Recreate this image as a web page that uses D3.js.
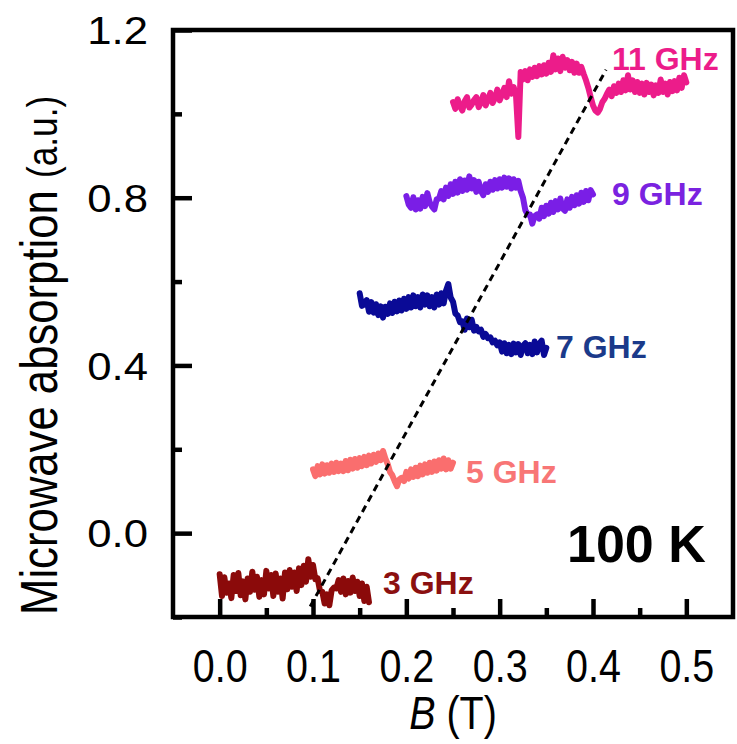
<!DOCTYPE html>
<html>
<head>
<meta charset="utf-8">
<script src="https://cdn.jsdelivr.net/npm/d3@7"></script>
<style>
  body { margin: 0; background: #fff; }
  svg { display: block; font-family: "Liberation Sans", Arial, sans-serif; }
</style>
</head>
<body>
<div id="chart"></div>
<script>
// field sweeps (T) for each frequency
var sweep3 = [0.00, 0.16];
var sweep5 = [0.10, 0.25];
var sweep7 = [0.15, 0.35];
var sweep9 = [0.20, 0.40];
var sweep11 = [0.25, 0.50];

// absorption (a.u.), evenly spaced along each sweep
var abs3 = [-0.098, -0.150, -0.105, -0.142, -0.120, -0.155, -0.100, -0.138, -0.095, -0.148,
  -0.115, -0.158, -0.108, -0.140, -0.092, -0.135, -0.104, -0.152, -0.112, -0.146,
  -0.090, -0.132, -0.100, -0.150, -0.096, -0.140, -0.108, -0.156, -0.094, -0.134,
  -0.088, -0.128, -0.094, -0.138, -0.084, -0.124, -0.078, -0.116, -0.062, -0.104,
  -0.076, -0.110, -0.108, -0.138, -0.140, -0.168, -0.146, -0.172, -0.136, -0.130,
  -0.132, -0.112, -0.140, -0.108, -0.146, -0.114, -0.142, -0.106, -0.138, -0.116,
  -0.150, -0.120, -0.162, -0.128, -0.165];

var abs5 = [0.152, 0.136, 0.160, 0.140, 0.164, 0.142, 0.162, 0.144, 0.166, 0.146,
  0.168, 0.148, 0.166, 0.148, 0.172, 0.150, 0.175, 0.154, 0.177, 0.156,
  0.179, 0.160, 0.182, 0.162, 0.185, 0.166, 0.187, 0.170, 0.190, 0.174,
  0.196, 0.178, 0.165, 0.146, 0.138, 0.124, 0.112, 0.128, 0.132, 0.124,
  0.146, 0.130, 0.152, 0.134, 0.156, 0.136, 0.161, 0.140, 0.164, 0.144,
  0.168, 0.146, 0.171, 0.149, 0.174, 0.154, 0.178, 0.152, 0.174, 0.154,
  0.168];

var abs7 = [0.572, 0.542, 0.546, 0.556, 0.528, 0.551, 0.526, 0.546, 0.520, 0.541,
  0.514, 0.540, 0.523, 0.548, 0.525, 0.552, 0.529, 0.555, 0.531, 0.559,
  0.535, 0.563, 0.538, 0.567, 0.541, 0.563, 0.538, 0.569, 0.545, 0.567,
  0.541, 0.563, 0.538, 0.569, 0.545, 0.572, 0.548, 0.578, 0.594, 0.562,
  0.552, 0.524, 0.519, 0.503, 0.505, 0.485, 0.512, 0.491, 0.509, 0.483,
  0.492, 0.481, 0.485, 0.468, 0.475, 0.465, 0.467, 0.455, 0.459, 0.448,
  0.455, 0.433, 0.453, 0.429, 0.449, 0.427, 0.452, 0.431, 0.451, 0.425,
  0.447, 0.453, 0.429, 0.449, 0.427, 0.457, 0.431, 0.452, 0.459, 0.425,
  0.442];

var abs9 = [0.804, 0.784, 0.776, 0.801, 0.772, 0.794, 0.774, 0.802, 0.780, 0.811,
  0.789, 0.779, 0.772, 0.796, 0.798, 0.816, 0.796, 0.824, 0.804, 0.832,
  0.809, 0.838, 0.812, 0.844, 0.816, 0.841, 0.819, 0.851, 0.822, 0.842,
  0.814, 0.838, 0.816, 0.806, 0.832, 0.814, 0.838, 0.819, 0.842, 0.822,
  0.844, 0.824, 0.848, 0.826, 0.846, 0.822, 0.844, 0.824, 0.840, 0.816,
  0.800, 0.770, 0.760, 0.760, 0.738, 0.756, 0.760, 0.750, 0.776, 0.756,
  0.781, 0.762, 0.788, 0.766, 0.792, 0.772, 0.798, 0.774, 0.769, 0.796,
  0.776, 0.802, 0.782, 0.806, 0.786, 0.812, 0.790, 0.816, 0.794, 0.818,
  0.808];

var abs11 = [1.028, 1.012, 1.035, 1.018, 1.008, 1.030, 1.040, 1.015, 1.022, 1.033,
  1.040, 1.016, 1.028, 1.045, 1.020, 1.034, 1.050, 1.026, 1.038, 1.058,
  1.032, 1.046, 1.062, 1.040, 1.078, 1.048, 1.064, 1.044, 0.945, 1.100,
  1.082, 1.102, 1.080, 1.106, 1.088, 1.110, 1.090, 1.114, 1.094, 1.116,
  1.096, 1.122, 1.100, 1.140, 1.106, 1.132, 1.102, 1.136, 1.110, 1.128,
  1.104, 1.124, 1.098, 1.120, 1.098, 1.112, 1.095, 1.080, 1.062, 1.040,
  1.020, 1.008, 1.003, 1.012, 1.028, 1.036, 1.048, 1.058, 1.042, 1.066,
  1.050, 1.072, 1.052, 1.080, 1.056, 1.092, 1.058, 1.080, 1.052, 1.076,
  1.050, 1.072, 1.046, 1.074, 1.052, 1.070, 1.044, 1.068, 1.050, 1.082,
  1.052, 1.072, 1.046, 1.076, 1.054, 1.078, 1.056, 1.086, 1.062, 1.092,
  1.075];

var freqLabels = ["3 GHz", "5 GHz", "7 GHz", "9 GHz", "11 GHz"];
var traceColors = ["#8b0a0a", "#fa6e6e", "#0a0a96", "#7a1ee6", "#ec1c8a"];
var labelColors = ["#8b1010", "#f87676", "#1b3a8a", "#7a22e0", "#ec1c8a"];

// resonance guide line (B, absorption) end points
var guideB = [0.097, 0.414];
var guideAbs = [-0.175, 1.105];

var xMajor = [0.0, 0.1, 0.2, 0.3, 0.4, 0.5];
var xMinor = [0.05, 0.15, 0.25, 0.35, 0.45];
var yMajor = [0.0, 0.4, 0.8, 1.2];
var yMinor = [-0.2, 0.2, 0.6, 1.0];

var W = 737, H = 744;
var plotL = 173, plotR = 733, plotT = 30, plotB = 617;

var svg = d3.select("#chart").append("svg")
  .attr("width", W)
  .attr("height", H);

var x = d3.scaleLinear().domain([-0.05, 0.55]).range([plotL, plotR]);
var y = d3.scaleLinear().domain([-0.2, 1.2]).range([plotB, plotT]);

function buildTrace(sweep, values) {
  var step = (sweep[1] - sweep[0]) / (values.length - 1);
  return values.map(function(v, i) {
    return { b: sweep[0] + i * step, a: v };
  });
}

var traces = [
  buildTrace(sweep3, abs3),
  buildTrace(sweep5, abs5),
  buildTrace(sweep7, abs7),
  buildTrace(sweep9, abs9),
  buildTrace(sweep11, abs11)
];

var line = d3.line()
  .x(function(d) { return x(d.b); })
  .y(function(d) { return y(d.a); });

svg.append("g").selectAll("path")
  .data(traces)
  .enter().append("path")
  .attr("d", line)
  .attr("fill", "none")
  .attr("stroke", function(d, i) { return traceColors[i]; })
  .attr("stroke-width", 6)
  .attr("stroke-linejoin", "round")
  .attr("stroke-linecap", "round");

// dashed guide on top of the traces
svg.append("line")
  .attr("x1", x(guideB[0])).attr("y1", y(guideAbs[0]))
  .attr("x2", x(guideB[1])).attr("y2", y(guideAbs[1]))
  .attr("stroke", "#000")
  .attr("stroke-width", 3)
  .attr("stroke-dasharray", "7,5");

// axes, ticks pointing inward
var xAxisMajor = d3.axisBottom(x).tickValues(xMajor).tickSize(-18).tickSizeOuter(0)
  .tickFormat(d3.format(".1f"));
var xAxisMinor = d3.axisBottom(x).tickValues(xMinor).tickSize(-9).tickSizeOuter(0).tickFormat("");
var yAxisMajor = d3.axisLeft(y).tickValues(yMajor).tickSize(-19).tickSizeOuter(0)
  .tickFormat(d3.format(".1f"));
var yAxisMinor = d3.axisLeft(y).tickValues(yMinor).tickSize(-9).tickSizeOuter(0).tickFormat("");

function styleAxis(g) {
  g.select(".domain").remove();
  g.selectAll(".tick line").attr("stroke", "#000").attr("stroke-width", 4.5);
}

var gx = svg.append("g").attr("transform", "translate(0," + plotB + ")");
gx.call(xAxisMajor).call(styleAxis);
gx.selectAll(".tick text")
  .attr("y", 65).attr("dy", 0)
  .attr("transform", "scale(0.84,1)")
  .attr("font-size", 47)
  .attr("font-family", "Liberation Sans, Arial, sans-serif")
  .attr("fill", "#000");
svg.append("g").attr("transform", "translate(0," + plotB + ")").call(xAxisMinor).call(styleAxis);

// y tick labels are a little wider than plain Arial in the source
var gy = svg.append("g").attr("transform", "translate(" + plotL + ",0)");
gy.call(yAxisMajor).call(styleAxis);
gy.selectAll(".tick text")
  .attr("x", -25 / 1.15).attr("dy", "0.36em")
  .attr("transform", "scale(1.15,1)")
  .attr("font-size", 38)
  .attr("font-family", "Liberation Sans, Arial, sans-serif")
  .attr("fill", "#000");
svg.append("g").attr("transform", "translate(" + plotL + ",0)").call(yAxisMinor).call(styleAxis);

// frame
svg.append("rect")
  .attr("x", plotL).attr("y", plotT)
  .attr("width", plotR - plotL).attr("height", plotB - plotT)
  .attr("fill", "none")
  .attr("stroke", "#000")
  .attr("stroke-width", 4.5);

// frequency labels
var labelPos = [[383, 594], [466, 483], [556, 358], [612, 205], [612, 70]];
svg.append("g").selectAll("text")
  .data(freqLabels)
  .enter().append("text")
  .attr("x", function(d, i) { return labelPos[i][0]; })
  .attr("y", function(d, i) { return labelPos[i][1]; })
  .attr("font-size", 32)
  .attr("font-weight", "bold")
  .attr("fill", function(d, i) { return labelColors[i]; })
  .text(function(d) { return d; });

svg.append("text")
  .attr("x", 567).attr("y", 562)
  .attr("font-size", 52)
  .attr("font-weight", "bold")
  .attr("fill", "#000")
  .text("100 K");

// axis titles
var xTitle = svg.append("text")
  .attr("transform", "translate(" + ((plotL + plotR) / 2) + ",729) scale(0.84,1)")
  .attr("text-anchor", "middle")
  .attr("font-size", 47)
  .attr("fill", "#000");
xTitle.append("tspan").attr("font-style", "italic").text("B");
xTitle.append("tspan").text(" (T)");

var yTitle = svg.append("text")
  .attr("transform", "translate(57,615) rotate(-90) scale(0.84,1)")
  .attr("font-size", 52)
  .attr("fill", "#000");
yTitle.append("tspan").text("Microwave absorption ");
yTitle.append("tspan").attr("font-size", 42).text("(a.u.)");
</script>
</body>
</html>
